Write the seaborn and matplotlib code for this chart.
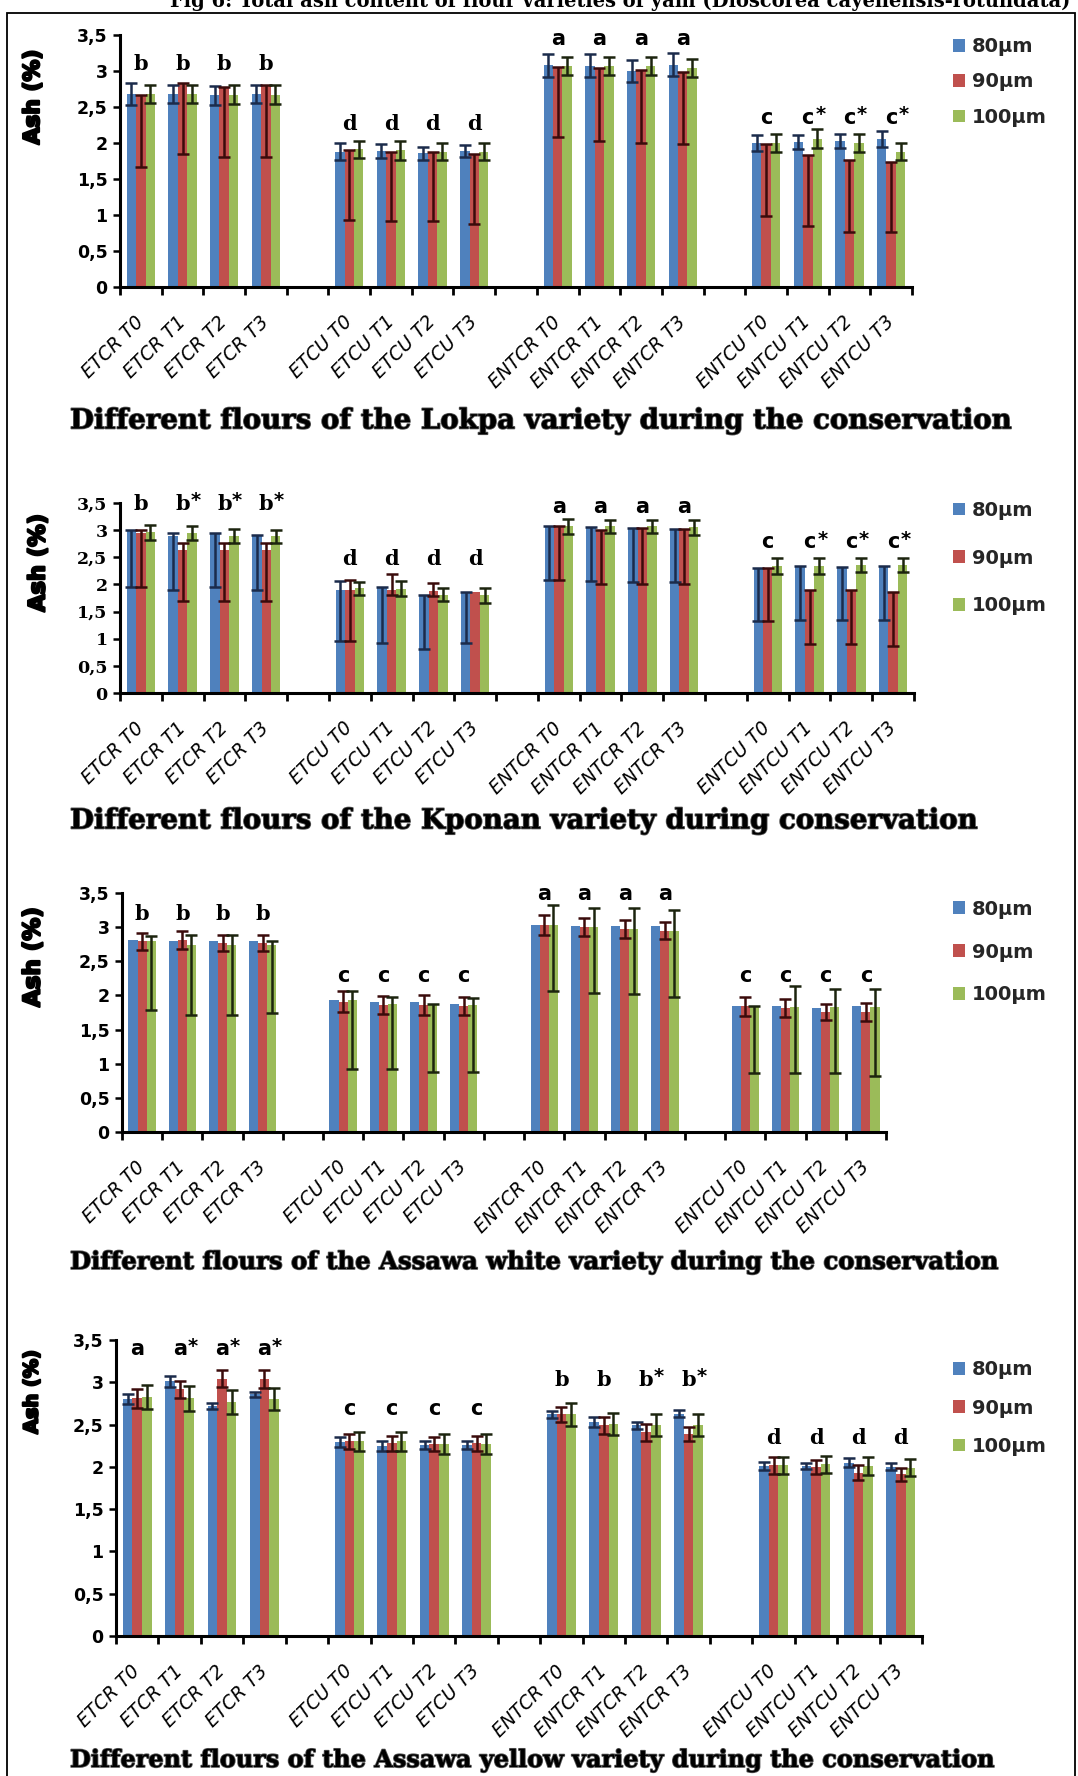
import numpy as np
import pandas as pd
import matplotlib
matplotlib.use("Agg")
import matplotlib.pyplot as plt
import matplotlib.patheffects as pe
from matplotlib.patches import Patch, Rectangle
from matplotlib.container import BarContainer
from matplotlib.ticker import FixedLocator, FuncFormatter, MultipleLocator
import seaborn as sns

# ---------------------------------------------------------------- data
SIZES = ["80µm", "90µm", "100µm"]
FLOURS = ["ETCR", "ETCU", "ENTCR", "ENTCU"]
STAGES = ["T0", "T1", "T2", "T3"]
CATEGORIES = [f"{f} {t}" for f in FLOURS for t in STAGES]

# Lokpa
LOKPA_80 = [2.68, 2.68, 2.66, 2.68, 1.88, 1.89, 1.86, 1.89, 3.08, 3.07, 3.00, 3.09, 2.00, 2.01, 2.03, 2.06]
LOKPA_80_LO = [0.15, 0.13, 0.13, 0.13, 0.12, 0.10, 0.09, 0.08, 0.16, 0.16, 0.15, 0.16, 0.11, 0.10, 0.10, 0.11]
LOKPA_80_HI = LOKPA_80_LO
LOKPA_90 = [2.67, 2.83, 2.78, 2.80, 1.90, 1.88, 1.88, 1.85, 3.06, 3.04, 3.01, 2.99, 1.98, 1.83, 1.76, 1.74]
LOKPA_90_LO = [1.00, 0.98, 0.98, 0.99, 0.97, 0.97, 0.97, 0.97, 0.98, 1.01, 1.01, 1.01, 1.00, 0.98, 1.00, 0.98]
LOKPA_90_HI = [0.0] * 16
LOKPA_100 = [2.68, 2.68, 2.67, 2.67, 1.91, 1.90, 1.88, 1.88, 3.07, 3.07, 3.07, 3.04, 2.00, 2.06, 2.00, 1.88]
LOKPA_100_LO = [0.13, 0.13, 0.13, 0.13, 0.12, 0.13, 0.12, 0.12, 0.12, 0.12, 0.12, 0.12, 0.12, 0.13, 0.12, 0.12]
LOKPA_100_HI = LOKPA_100_LO
LOKPA_LETTERS = ["b", "b", "b", "b", "d", "d", "d", "d", "a", "a", "a", "a", "c", "c*", "c*", "c*"]

# Kponan
KPONAN_80 = [2.99, 2.89, 2.93, 2.89, 1.90, 1.93, 1.80, 1.86, 3.07, 3.05, 3.04, 3.03, 2.31, 2.34, 2.32, 2.34]
KPONAN_80_LO = [1.03, 0.99, 0.97, 0.99, 0.95, 1.01, 0.99, 0.94, 0.98, 0.98, 1.00, 0.99, 0.99, 0.99, 0.97, 0.99]
KPONAN_80_HI = [0.02, 0.05, 0.02, 0.02, 0.17, 0.03, 0.00, 0.00, 0.00, 0.00, 0.00, 0.00, 0.00, 0.00, 0.00, 0.00]
KPONAN_90 = [2.95, 2.64, 2.64, 2.64, 1.90, 1.90, 1.88, 1.86, 3.07, 3.01, 3.04, 3.03, 2.31, 1.90, 1.90, 1.86]
KPONAN_90_LO = [0.99, 0.95, 0.95, 0.95, 0.95, 0.10, 0.09, 0.00, 0.98, 1.00, 1.03, 1.02, 0.99, 0.99, 0.99, 0.99]
KPONAN_90_HI = [0.06, 0.12, 0.12, 0.12, 0.19, 0.30, 0.15, 0.00, 0.00, 0.00, 0.00, 0.00, 0.00, 0.00, 0.00, 0.00]
KPONAN_100 = [2.96, 2.95, 2.89, 2.89, 1.93, 1.92, 1.81, 1.80, 3.07, 3.07, 3.07, 3.05, 2.34, 2.34, 2.35, 2.35]
KPONAN_100_LO = [0.14, 0.13, 0.13, 0.12, 0.12, 0.14, 0.12, 0.14, 0.14, 0.12, 0.12, 0.14, 0.14, 0.14, 0.13, 0.13]
KPONAN_100_HI = KPONAN_100_LO
KPONAN_LETTERS = ["b", "b*", "b*", "b*", "d", "d", "d", "d", "a", "a", "a", "a", "c", "c*", "c*", "c*"]

# Assawa white
WHITE_80 = [2.81, 2.79, 2.79, 2.79, 1.93, 1.90, 1.90, 1.88, 3.03, 3.02, 3.02, 3.02, 1.85, 1.85, 1.82, 1.85]
WHITE_80_LO = [0.0] * 16
WHITE_80_HI = [0.0] * 16
WHITE_90 = [2.79, 2.81, 2.77, 2.77, 1.91, 1.86, 1.86, 1.85, 3.03, 3.00, 2.97, 2.95, 1.84, 1.82, 1.76, 1.76]
WHITE_90_LO = [0.13, 0.13, 0.12, 0.12, 0.15, 0.13, 0.15, 0.13, 0.15, 0.13, 0.13, 0.13, 0.14, 0.13, 0.12, 0.13]
WHITE_90_HI = WHITE_90_LO
WHITE_100 = [2.79, 2.74, 2.74, 2.74, 1.93, 1.88, 1.86, 1.86, 3.03, 3.00, 2.98, 2.95, 1.85, 1.83, 1.83, 1.83]
WHITE_100_LO = [1.00, 1.03, 1.03, 1.00, 1.01, 0.96, 0.98, 0.98, 0.97, 0.96, 0.96, 0.97, 0.99, 0.97, 0.97, 1.01]
WHITE_100_HI = [0.08, 0.15, 0.15, 0.06, 0.14, 0.10, 0.02, 0.10, 0.30, 0.28, 0.30, 0.30, 0.00, 0.31, 0.27, 0.27]
WHITE_LETTERS = ["b", "b", "b", "b", "c", "c", "c", "c", "a", "a", "a", "a", "c", "c", "c", "c"]

# Assawa yellow
YELLOW_80 = [2.80, 3.01, 2.72, 2.86, 2.29, 2.25, 2.26, 2.26, 2.62, 2.53, 2.49, 2.63, 2.01, 2.01, 2.05, 2.00]
YELLOW_80_LO = [0.06, 0.06, 0.03, 0.03, 0.06, 0.06, 0.05, 0.05, 0.04, 0.06, 0.04, 0.04, 0.05, 0.04, 0.05, 0.04]
YELLOW_80_HI = YELLOW_80_LO
YELLOW_90 = [2.81, 2.92, 3.04, 3.04, 2.30, 2.28, 2.27, 2.28, 2.62, 2.49, 2.41, 2.39, 2.02, 2.00, 1.93, 1.91]
YELLOW_90_LO = [0.11, 0.10, 0.10, 0.11, 0.09, 0.09, 0.08, 0.09, 0.09, 0.10, 0.10, 0.08, 0.10, 0.08, 0.09, 0.08]
YELLOW_90_HI = YELLOW_90_LO
YELLOW_100 = [2.83, 2.81, 2.77, 2.80, 2.30, 2.30, 2.27, 2.27, 2.62, 2.51, 2.50, 2.50, 2.02, 2.03, 2.01, 1.99]
YELLOW_100_LO = [0.14, 0.15, 0.14, 0.13, 0.11, 0.11, 0.12, 0.12, 0.14, 0.13, 0.13, 0.13, 0.10, 0.10, 0.11, 0.10]
YELLOW_100_HI = YELLOW_100_LO
YELLOW_LETTERS = ["a", "a*", "a*", "a*", "c", "c", "c", "c", "b", "b", "b*", "b*", "d", "d", "d", "d"]

TITLES = [
    "Different flours of the Lokpa variety during the conservation",
    "Different flours of the Kponan variety during conservation",
    "Different flours of the Assawa white variety during the conservation",
    "Different flours of the Assawa yellow variety during the conservation",
]
CAPTION = "Fig 6: Total ash content of flour varieties of yam (Dioscorea cayenensis-rotundata)"

# ---------------------------------------------------------------- style
sns.set_theme(style="white")
plt.rcParams["font.family"] = ["DejaVu Sans"]

COLORS = ["#4F81BD", "#C0504D", "#9BBB59"]
ERR_COLORS = ["#1b2b4b", "#3a0b0b", "#1c240e"]

# empty slots separate the four flour groups on the category axis
ORDER = (CATEGORIES[0:4] + [" "] + CATEGORIES[4:8] + ["  "]
         + CATEGORIES[8:12] + ["   "] + CATEGORIES[12:16])

W, H = 1078, 1776
fig = plt.figure(figsize=(W / 100, H / 100), dpi=100)
fig.patch.set_facecolor("white")


def px_box(left, right, top, bottom):
    return [left / W, 1 - bottom / H, (right - left) / W, (bottom - top) / H]


PANELS = [
    dict(vals=(LOKPA_80, LOKPA_90, LOKPA_100),
         lo=(LOKPA_80_LO, LOKPA_90_LO, LOKPA_100_LO),
         hi=(LOKPA_80_HI, LOKPA_90_HI, LOKPA_100_HI),
         letters=LOKPA_LETTERS, letter_base=[3.01, 2.18, 3.36, 2.27],
         box=(120, 912, 35, 287), ylab=(33, 97, 95), title_y=421, title_w=942,
         legend_y=82, legend_sp=0.84, tick_family="DejaVu Sans"),
    dict(vals=(KPONAN_80, KPONAN_90, KPONAN_100),
         lo=(KPONAN_80_LO, KPONAN_90_LO, KPONAN_100_LO),
         hi=(KPONAN_80_HI, KPONAN_90_HI, KPONAN_100_HI),
         letters=KPONAN_LETTERS, letter_base=[3.38, 2.36, 3.31, 2.67],
         box=(120, 914, 503, 693), ylab=(38, 563, 98), title_y=821, title_w=908,
         legend_y=558, legend_sp=1.48, tick_family="DejaVu Serif"),
    dict(vals=(WHITE_80, WHITE_90, WHITE_100),
         lo=(WHITE_80_LO, WHITE_90_LO, WHITE_100_LO),
         hi=(WHITE_80_HI, WHITE_90_HI, WHITE_100_HI),
         letters=WHITE_LETTERS, letter_base=[3.11, 2.20, 3.40, 2.20],
         box=(122, 886, 893, 1132), ylab=(33, 957, 100), title_y=1262, title_w=929,
         legend_y=952, legend_sp=1.23, tick_family="DejaVu Sans"),
    dict(vals=(YELLOW_80, YELLOW_90, YELLOW_100),
         lo=(YELLOW_80_LO, YELLOW_90_LO, YELLOW_100_LO),
         hi=(YELLOW_80_HI, YELLOW_90_HI, YELLOW_100_HI),
         letters=YELLOW_LETTERS, letter_base=[3.32, 2.61, 2.96, 2.27],
         box=(116, 922, 1340, 1636), ylab=(32, 1392, 84), title_y=1760, title_w=925,
         legend_y=1408, legend_sp=1.0, tick_family="DejaVu Sans"),
]

renderer = fig.canvas.get_renderer()


def fit(text, target, vertical=False):
    ext = text.get_window_extent(renderer=renderer)
    size = ext.height if vertical else ext.width
    text.set_fontsize(text.get_fontsize() * target / size)


for k, p in enumerate(PANELS):
    ax = fig.add_axes(px_box(*p["box"]))
    df = pd.DataFrame({
        "flour": CATEGORIES * 3,
        "size": np.repeat(SIZES, len(CATEGORIES)),
        "ash": np.concatenate(p["vals"]),
    })
    sns.barplot(data=df, x="flour", y="ash", hue="size", order=ORDER,
                hue_order=SIZES, palette=COLORS, saturation=1, width=0.68,
                errorbar=None, linewidth=0, legend=False, ax=ax)

    # error bars on top of each bar, using the positions seaborn laid out
    bar_sets = [c for c in ax.containers if isinstance(c, BarContainer)]
    for s, cont in enumerate(bar_sets):
        for bar in cont:
            if bar is None:
                continue
            cx = bar.get_x() + bar.get_width() / 2
            label = ORDER[int(round(cx))]
            if label not in CATEGORIES:
                continue
            i = CATEGORIES.index(label)
            lo, hi = p["lo"][s][i], p["hi"][s][i]
            if lo + hi <= 0:
                continue
            ax.errorbar(cx, bar.get_height(), yerr=[[lo], [hi]], fmt="none",
                        ecolor=ERR_COLORS[s], elinewidth=1.8, capsize=4.5,
                        capthick=1.8, zorder=5)

    # significance letters above each category
    for i, lab in enumerate(CATEGORIES):
        x = ORDER.index(lab)
        base = p["letter_base"][i // 4]
        letter = p["letters"][i]
        fam = "DejaVu Serif" if letter[0] in "bd" else "DejaVu Sans"
        ax.text(x, base, letter[0], ha="center", va="baseline",
                fontfamily=fam, fontweight="bold", fontsize=15, color="black")
        if letter.endswith("*"):
            ax.annotate("*", xy=(x, base), xytext=(5.5, 2.5),
                        textcoords="offset points", ha="left", va="baseline",
                        fontfamily="DejaVu Sans", fontweight="bold",
                        fontsize=14, color="black")

    ax.set_xlim(-0.5, len(ORDER) - 0.5)
    ax.set_ylim(0, 3.5)
    ax.set_xlabel("")
    ax.set_ylabel("")
    ax.yaxis.set_major_locator(MultipleLocator(0.5))
    ax.yaxis.set_major_formatter(FuncFormatter(
        lambda v, _: (f"{v:g}").replace(".", ",")))
    for sp in ("top", "right"):
        ax.spines[sp].set_visible(False)
    for sp in ("left", "bottom"):
        ax.spines[sp].set_linewidth(2.2)
        ax.spines[sp].set_color("black")
    ax.set_facecolor("white")

    ax.tick_params(axis="y", left=True, length=5, width=1.8, direction="out",
                   pad=4, labelsize=12.5, colors="black")
    for t in ax.get_yticklabels():
        t.set_fontweight("bold")
        t.set_fontfamily(p["tick_family"])

    ax.xaxis.set_minor_locator(FixedLocator(np.arange(-0.5, len(ORDER), 1.0)))
    ax.tick_params(axis="x", which="minor", bottom=True, length=6, width=2,
                   direction="out", color="black")
    ax.tick_params(axis="x", which="major", bottom=False, length=0, pad=23)
    for t in ax.get_xticklabels():
        t.set_rotation(45)
        t.set_ha("right")
        t.set_va("center")
        t.set_rotation_mode("anchor")
        t.set_fontstyle("italic")
        t.set_fontsize(13.5)
        t.set_color("black")

    # legend
    ax.legend([Patch(facecolor=c, edgecolor="none") for c in COLORS], SIZES,
              loc="center left", bbox_to_anchor=(953 / W, 1 - p["legend_y"] / H),
              bbox_transform=fig.transFigure, frameon=False,
              prop=dict(weight="bold", size=14), handlelength=0.62,
              handleheight=0.62, handletextpad=0.35,
              labelspacing=p["legend_sp"], borderpad=0, borderaxespad=0)

    # axis title, heavy strokes
    xl, yl, ylen = p["ylab"]
    yt = fig.text(xl / W, 1 - yl / H, "Ash (%)", rotation=90, ha="center",
                  va="center", fontweight="heavy", fontsize=15, color="black",
                  path_effects=[pe.withStroke(linewidth=1.6, foreground="black")])
    fit(yt, ylen, vertical=True)

    # panel caption
    tt = fig.text(70 / W, 1 - p["title_y"] / H, TITLES[k], ha="left",
                  va="center", fontfamily="DejaVu Serif", fontweight="heavy",
                  fontsize=18, color="black",
                  path_effects=[pe.withStroke(linewidth=1.2, foreground="#555555")])
    fit(tt, p["title_w"])

# figure caption, cut by the top edge
cap = fig.text(170 / W, 1 - 1 / H, CAPTION, ha="left", va="center",
               fontfamily="DejaVu Serif", fontweight="bold", fontsize=13,
               color="black")
fit(cap, 903)

# frame around the whole figure
fig.add_artist(Rectangle((7 / W, -0.01), (1075 - 7) / W, 1.01 - 13 / H,
                         transform=fig.transFigure, fill=False,
                         edgecolor="black", linewidth=1.3))

fig.savefig("out.png", dpi=100, facecolor="white")
